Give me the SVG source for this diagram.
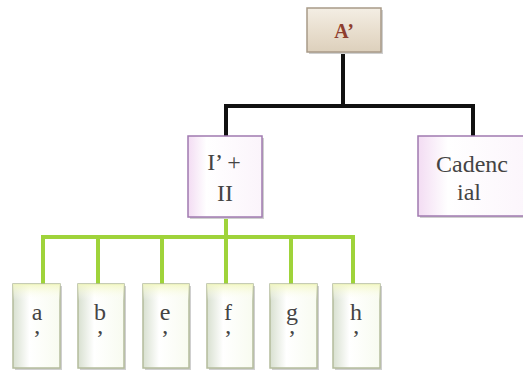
<svg xmlns="http://www.w3.org/2000/svg" width="523" height="373" viewBox="0 0 523 373">
<defs>
<linearGradient id="gA" x1="0" y1="0" x2="0" y2="1">
<stop offset="0" stop-color="#f4eee4"/><stop offset="0.5" stop-color="#e9dfcf"/><stop offset="1" stop-color="#ddd0bc"/>
</linearGradient>
<linearGradient id="gP" x1="0" y1="0" x2="1" y2="0">
<stop offset="0" stop-color="#f3dcf3"/><stop offset="0.25" stop-color="#ffffff"/><stop offset="1" stop-color="#fbf4fb"/>
</linearGradient>
<linearGradient id="gL" x1="0" y1="0" x2="1" y2="0">
<stop offset="0" stop-color="#d8e0d0"/><stop offset="0.35" stop-color="#ffffff"/><stop offset="1" stop-color="#f8fbf0"/>
</linearGradient>
<linearGradient id="gLt" x1="0" y1="0" x2="0" y2="1">
<stop offset="0" stop-color="#f2f7c0" stop-opacity="0.9"/><stop offset="0.2" stop-color="#ffffff" stop-opacity="0"/>
</linearGradient>
</defs>
<style>
.sh{fill:#cfcfcf;}
.a{fill:url(#gA);stroke:#a89a88;stroke-width:1.5;}
.p{fill:url(#gP);stroke:#a07ab0;stroke-width:1.5;}
.l{fill:url(#gL);stroke:#b4bc9c;stroke-width:1.5;}
.lt{fill:url(#gLt);}
.t{font-family:"Liberation Serif",serif;font-size:24px;fill:#444;text-anchor:middle;}
.ta{font-family:"Liberation Serif",serif;font-size:20px;font-weight:bold;fill:#8e3e2e;text-anchor:middle;}
.k{fill:none;stroke:#111;stroke-width:4;}
.g{fill:none;stroke:#9fd33a;stroke-width:4;}
</style>
<g id="connectors">
<path class="k" d="M343,52 V106 M226,136 V106 H473 V136"/>
<path class="g" d="M226,217 V237 M43,284 V237 H353 V284 M98,237 V284 M162,237 V284 M226,237 V284 M291,237 V284"/>
</g>
<g id="node-A">
<rect class="sh" x="309" y="10" width="74" height="44"/>
<rect class="a" x="307" y="8" width="74" height="44"/>
<text class="ta" x="344" y="38">A’</text>
</g>
<g id="node-I-II">
<rect class="sh" x="190" y="138" width="74" height="81"/>
<rect class="p" x="188" y="136" width="74" height="81"/>
<text class="t" x="224" y="170">I’ +</text>
<text class="t" x="225" y="201">II</text>
</g>
<g id="node-Cadencial">
<rect class="sh" x="420" y="138" width="120" height="80"/>
<rect class="p" x="418" y="136" width="120" height="80"/>
<text class="t" x="472" y="172">Cadenc</text>
<text class="t" x="469" y="200">ial</text>
</g>
<g id="node-a">
<rect class="sh" x="15" y="286" width="47" height="84"/>
<rect class="l" x="13" y="284" width="47" height="84"/>
<rect class="lt" x="13" y="284" width="47" height="84"/>
<text class="t" x="37" y="320">a</text><text class="t" x="37" y="346">’</text>
</g>
<g id="node-b">
<rect class="sh" x="80" y="286" width="46" height="84"/>
<rect class="l" x="78" y="284" width="46" height="84"/>
<rect class="lt" x="78" y="284" width="46" height="84"/>
<text class="t" x="100" y="320">b</text><text class="t" x="100" y="346">’</text>
</g>
<g id="node-e">
<rect class="sh" x="145" y="286" width="46" height="84"/>
<rect class="l" x="143" y="284" width="46" height="84"/>
<rect class="lt" x="143" y="284" width="46" height="84"/>
<text class="t" x="165" y="320">e</text><text class="t" x="165" y="346">’</text>
</g>
<g id="node-f">
<rect class="sh" x="209" y="286" width="46" height="84"/>
<rect class="l" x="207" y="284" width="46" height="84"/>
<rect class="lt" x="207" y="284" width="46" height="84"/>
<text class="t" x="228" y="320">f</text><text class="t" x="228" y="346">’</text>
</g>
<g id="node-g">
<rect class="sh" x="272" y="286" width="47" height="84"/>
<rect class="l" x="270" y="284" width="47" height="84"/>
<rect class="lt" x="270" y="284" width="47" height="84"/>
<text class="t" x="292" y="320">g</text><text class="t" x="292" y="346">’</text>
</g>
<g id="node-h">
<rect class="sh" x="335" y="286" width="47" height="84"/>
<rect class="l" x="333" y="284" width="47" height="84"/>
<rect class="lt" x="333" y="284" width="47" height="84"/>
<text class="t" x="356" y="320">h</text><text class="t" x="356" y="346">’</text>
</g>
</svg>
